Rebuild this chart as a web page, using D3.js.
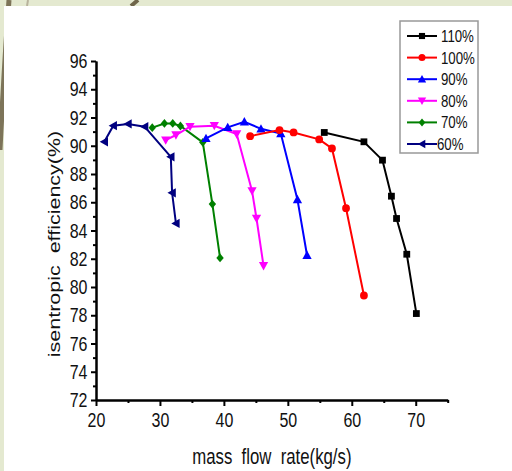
<!DOCTYPE html>
<html>
<head>
    <title>Isentropic efficiency</title>
    <script src="https://cdn.jsdelivr.net/npm/d3@7"></script>
    <style>
        body {
            margin: 0;
            padding: 0;
            background-color: #e4e9d0;
        }

        svg text {
            font-family: "Liberation Sans", Arial, sans-serif;
            fill: #111;
        }

        .axis-label {
            font-size: 21.5px;
        }

        .legend-label {
            font-size: 17px;
        }
    </style>
</head>
<body>
    <div id="chart"></div>

    <script>
        // values
        const speedLabels = ["110%", "100%", "90%", "80%", "70%", "60%"];
        const speedColors = ["#000000", "#ff0000", "#0000ff", "#ff00ff", "#008000", "#000080"];
        const speedSymbols = ["square", "circle", "triangle", "triangleDown", "diamond", "triangleLeft"];

        const flow110 = [55.7, 61.9, 64.8, 66.2, 67.0, 68.6, 70.1];
        const eff110 = [90.94, 90.28, 88.98, 86.43, 84.85, 82.32, 78.12];
        const flow100 = [44.1, 48.7, 50.9, 54.9, 56.9, 59.1, 61.9];
        const eff100 = [90.68, 91.11, 90.94, 90.45, 89.81, 85.58, 79.4];
        const flow90 = [37.2, 40.6, 43.2, 45.8, 48.9, 51.5, 53.0];
        const eff90 = [90.52, 91.3, 91.7, 91.2, 90.87, 86.2, 82.25];
        const flow80 = [30.9, 32.5, 34.7, 38.5, 42.0, 44.4, 45.1, 46.2];
        const eff80 = [90.4, 90.76, 91.35, 91.42, 90.83, 86.8, 84.85, 81.5];
        const flow70 = [28.8, 30.7, 32.0, 33.2, 36.7, 38.2, 39.4];
        const eff70 = [91.28, 91.58, 91.58, 91.4, 90.24, 85.87, 82.06];
        const flow60 = [21.3, 22.7, 25.0, 27.6, 31.7, 31.9, 32.5];
        const eff60 = [90.28, 91.42, 91.54, 91.35, 89.22, 86.67, 84.5];

        const xMajorTicks = [20, 30, 40, 50, 60, 70];
        const xMinorTicks = [25, 35, 45, 55, 65, 75];
        const yMajorTicks = [72, 74, 76, 78, 80, 82, 84, 86, 88, 90, 92, 94, 96];
        const yMinorTicks = [73, 75, 77, 79, 81, 83, 85, 87, 89, 91, 93, 95];

        const flows = [flow110, flow100, flow90, flow80, flow70, flow60];
        const effs = [eff110, eff100, eff90, eff80, eff70, eff60];

        const series = speedLabels.map((label, i) => ({
            label: label,
            color: speedColors[i],
            symbol: speedSymbols[i],
            points: flows[i].map((f, j) => ({ x: f, y: effs[i][j] }))
        }));

        // the source picture is squeezed sideways, so text glyphs are narrow
        const squeeze = 0.78;

        const W = 512, H = 471;
        const svg = d3.select("#chart")
            .append("svg")
            .attr("width", W)
            .attr("height", H);

        // slide background: pale band with brown strokes, white card
        svg.append("rect").attr("width", W).attr("height", H).attr("fill", "#e4e9d0");
        svg.append("path")
            .attr("d", "M9,0 C6,40 3,90 0,150")
            .attr("fill", "none").attr("stroke", "#7d7459").attr("stroke-width", 5);
        svg.append("path")
            .attr("d", "M138,0 L131,6")
            .attr("fill", "none").attr("stroke", "#6f654a").attr("stroke-width", 4);
        svg.append("path")
            .attr("d", "M28,0 L27,6")
            .attr("fill", "none").attr("stroke", "#b8b39c").attr("stroke-width", 2);
        svg.append("rect")
            .attr("x", 4).attr("y", 6)
            .attr("width", W - 4).attr("height", H - 6)
            .attr("fill", "white");

        const x = d3.scaleLinear().domain([20, 75]).range([96, 447.7]);
        const y = d3.scaleLinear().domain([72, 96]).range([400, 61]);

        // axes
        svg.append("g")
            .attr("class", "x-axis")
            .attr("transform", `translate(0,${y(72)})`)
            .call(d3.axisBottom(x).tickValues(xMajorTicks).tickSize(6).tickSizeOuter(0).tickPadding(6.5));
        svg.append("g")
            .attr("transform", `translate(0,${y(72)})`)
            .call(d3.axisBottom(x).tickValues(xMinorTicks).tickSize(3).tickSizeOuter(0).tickFormat(""));

        svg.append("g")
            .attr("class", "y-axis")
            .attr("transform", `translate(${x(20)},0)`)
            .call(d3.axisLeft(y).tickValues(yMajorTicks).tickSize(5).tickSizeOuter(0).tickPadding(6));
        svg.append("g")
            .attr("transform", `translate(${x(20)},0)`)
            .call(d3.axisLeft(y).tickValues(yMinorTicks).tickSize(3).tickSizeOuter(0).tickFormat(""));

        svg.selectAll(".domain").attr("stroke", "#000").attr("stroke-width", 2);
        svg.selectAll(".tick line").attr("stroke", "#000").attr("stroke-width", 2);
        svg.selectAll(".x-axis .tick text, .y-axis .tick text")
            .attr("fill", "#111")
            .attr("transform", `scale(${squeeze},1)`)
            .style("font-family", "'Liberation Sans', Arial, sans-serif")
            .style("font-size", "20.5px");
        // x tick labels: keep them centred on the tick after the squeeze
        svg.selectAll(".x-axis .tick text").attr("x", 0);

        svg.append("text")
            .attr("class", "axis-label")
            .attr("transform", `translate(${x(47.5)},464) scale(${squeeze},1)`)
            .attr("text-anchor", "middle")
            .attr("xml:space", "preserve")
            .text("mass  flow  rate(kg/s)");

        svg.append("text")
            .attr("class", "axis-label")
            .attr("transform", `translate(60,244) scale(${squeeze},1) rotate(-90)`)
            .attr("text-anchor", "middle")
            .attr("xml:space", "preserve")
            .text("isentropic  efficiency(%)");

        // marker shapes
        function markerPath(symbol, s) {
            if (symbol === "square") return `M${-s},${-s}h${2 * s}v${2 * s}h${-2 * s}Z`;
            if (symbol === "circle") return d3.symbol(d3.symbolCircle, Math.PI * s * s)();
            if (symbol === "diamond") return `M0,${-s * 1.2}L${s},0L0,${s * 1.2}L${-s},0Z`;
            const t = s * 1.25;
            if (symbol === "triangle") return `M0,${-t}L${t},${t * 0.8}L${-t},${t * 0.8}Z`;
            if (symbol === "triangleDown") return `M0,${t}L${t},${-t * 0.8}L${-t},${-t * 0.8}Z`;
            if (symbol === "triangleLeft") return `M${-t},0L${t * 0.8},${-t}L${t * 0.8},${t}Z`;
        }
        const markerSize = { square: 3.4, circle: 3.9, triangle: 3.7, triangleDown: 3.7, diamond: 3.7, triangleLeft: 3.7 };

        const line = d3.line().x(d => x(d.x)).y(d => y(d.y));

        // draw 60% first so 110% sits on top, as in the picture
        const groups = svg.selectAll(".series")
            .data(series.slice().reverse())
            .enter()
            .append("g")
            .attr("class", "series");

        groups.append("path")
            .attr("d", d => line(d.points))
            .attr("fill", "none")
            .attr("stroke", d => d.color)
            .attr("stroke-width", 2);

        groups.each(function (s) {
            d3.select(this).selectAll(".pt")
                .data(s.points)
                .enter()
                .append("path")
                .attr("class", "pt")
                .attr("transform", d => `translate(${x(d.x)},${y(d.y)})`)
                .attr("d", markerPath(s.symbol, markerSize[s.symbol]))
                .attr("fill", s.color);
        });

        // legend
        const legend = svg.append("g").attr("transform", "translate(400,21)");
        legend.append("rect")
            .attr("width", 78).attr("height", 132)
            .attr("fill", "white")
            .attr("stroke", "#999").attr("stroke-width", 1.5);

        const rows = legend.selectAll(".legend-row")
            .data(series)
            .enter()
            .append("g")
            .attr("class", "legend-row")
            .attr("transform", (d, i) => `translate(0,${15 + i * 21.6})`);

        rows.append("line")
            .attr("x1", 7).attr("x2", 37)
            .attr("stroke", d => d.color).attr("stroke-width", 2);
        rows.append("path")
            .attr("transform", "translate(22,0)")
            .attr("d", d => markerPath(d.symbol, markerSize[d.symbol] * 0.9))
            .attr("fill", d => d.color);
        rows.append("text")
            .attr("class", "legend-label")
            .attr("transform", (d, i) => `translate(${i === 5 ? 37 : 41},6) scale(${squeeze},1)`)
            .text(d => d.label);
    </script>
</body>
</html>
